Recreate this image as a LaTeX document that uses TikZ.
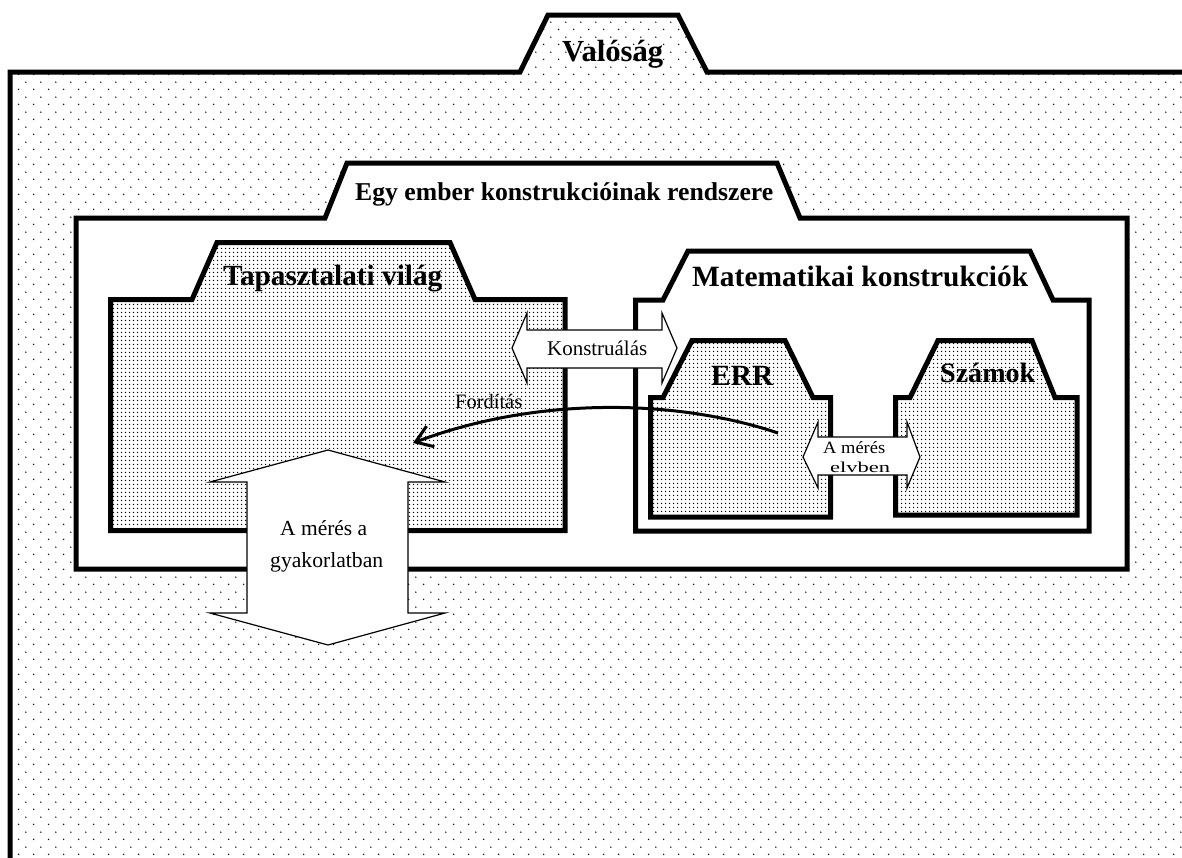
\documentclass[tikz,border=0pt]{standalone}
\usepackage{fontspec}
\setmainfont{Liberation Serif}
\usetikzlibrary{patterns,arrows.meta}
\pgfdeclarepatternformonly{sparsedots}{\pgfpointorigin}{\pgfpoint{15.2pt}{15.2pt}}{\pgfpoint{15.2pt}{15.2pt}}{%
 \pgfpathcircle{\pgfpoint{3.8pt}{3.8pt}}{0.85pt}%
 \pgfpathcircle{\pgfpoint{11.4pt}{11.4pt}}{0.85pt}%
 \pgfusepath{fill}}
\pgfdeclarepatternformonly{densedots}{\pgfpointorigin}{\pgfpoint{4pt}{4pt}}{\pgfpoint{4pt}{4pt}}{%
 \pgfpathcircle{\pgfpoint{2pt}{2pt}}{0.9pt}\pgfusepath{fill}}
\newcommand\fitw[2]{\resizebox{#1}{!}{#2}}
\newcommand\fitwh[3]{\resizebox{#1}{#2}{#3}}
\tikzset{
  frame/.style={draw=black, line width=5pt, line join=miter},
  outerfill/.style={pattern=sparsedots, pattern color=black!90},
  densefill/.style={preaction={fill=white}, pattern=densedots, pattern color=black},
  whitefill/.style={fill=white},
  arrowbox/.style={draw=black, line width=1.2pt, fill=white, line join=miter},
  tablabel/.style={anchor=base west, inner sep=0pt, font=\bfseries},
  plainlabel/.style={anchor=base west, inner sep=0pt},
  transarrow/.style={line width=3pt, -{Straight Barb[length=16pt,width=22pt,line width=3pt]}}
}
\begin{document}
\begin{tikzpicture}[x=1pt,y=-1pt]
\useasboundingbox (0,0) rectangle (1182,857);
\fill[white] (0,0) rectangle (1182,857);
% Valóság (outer frame)
\path[outerfill] (10,880) -- (10,72) -- (520,72) -- (548,15) -- (678,15) -- (707,72) -- (1200,72) -- (1200,880) -- cycle;
\draw[frame] (10,880) -- (10,72) -- (520,72) -- (548,15) -- (678,15) -- (707,72) -- (1200,72);
\node[tablabel] (valosag) at (562,61) {\fitw{101pt}{Valóság}};
% Egy ember konstrukcióinak rendszere
\draw[frame, whitefill] (76,218) -- (325,218) -- (347,163) -- (777,163) -- (800,218) -- (1127,218) -- (1127,569) -- (76,569) -- cycle;
\node[tablabel] (egyember) at (355,200) {\fitw{418pt}{Egy ember konstrukcióinak rendszere}};
% Tapasztalati világ
\draw[frame, densefill] (110.5,299.5) -- (192,299.5) -- (217,242.5) -- (450,242.5) -- (475,299.5) -- (565,299.5) -- (565,530.5) -- (110.5,530.5) -- cycle;
\node[tablabel] (tapasztalati) at (223,285) {\fitw{219pt}{Tapasztalati világ}};
% Matematikai konstrukciók
\draw[frame, whitefill] (635.5,300) -- (663,300) -- (688,251) -- (1030,251) -- (1053,300) -- (1089,300) -- (1089,531) -- (635.5,531) -- cycle;
\node[tablabel] (matek) at (692,286) {\fitw{336pt}{Matematikai konstrukciók}};
% ERR
\draw[frame, densefill] (650.5,397.5) -- (663,397.5) -- (692,340.5) -- (785,340.5) -- (813,397.5) -- (830.5,397.5) -- (830.5,517) -- (650.5,517) -- cycle;
\node[tablabel] (err) at (711,385) {\fitw{62pt}{ERR}};
% Számok
\draw[frame, densefill] (895.5,397.5) -- (910,397.5) -- (938,340.5) -- (1032,340.5) -- (1055,397.5) -- (1077,397.5) -- (1077,515) -- (895.5,515) -- cycle;
\node[tablabel] (szamok) at (940,382) {\fitw{95pt}{Számok}};
% Konstruálás double arrow
\draw[arrowbox] (512,348) -- (527,313) -- (527,330) -- (662,330) -- (662,313) -- (677,348) -- (662,383) -- (662,368) -- (527,368) -- (527,383) -- cycle;
\node[plainlabel] (konstrualas) at (547,355) {\fitw{100pt}{Konstruálás}};
% A mérés elvben double arrow
\draw[arrowbox] (803,457) -- (818,422) -- (818,437) -- (907,437) -- (907,422) -- (920,457) -- (907,488) -- (907,475) -- (818,475) -- (818,488) -- cycle;
\node[plainlabel] (elvbenA) at (823,453) {\fitwh{62pt}{12pt}{A mérés}};
\node[plainlabel] (elvbenB) at (830,472) {\fitwh{60pt}{10.5pt}{elvben}};
% Fordítás
\coordinate (fs) at (778,433);
\coordinate (fe) at (413,443);
\draw[transarrow] (fs) .. controls (680,400) and (540,395) .. (fe);
\node[plainlabel] (forditas) at (455,408) {\fitw{67pt}{Fordítás}};
% A mérés a gyakorlatban
\draw[arrowbox] (328,450) -- (445,482) -- (408,482) -- (408,613) -- (445,613) -- (328,645) -- (210,613) -- (247,613) -- (247,482) -- (210,482) -- cycle;
\node[plainlabel] (gyakA) at (280,535) {\fitw{87pt}{A mérés a}};
\node[plainlabel] (gyakB) at (270,567) {\fitw{113pt}{gyakorlatban}};
\end{tikzpicture}
\end{document}
